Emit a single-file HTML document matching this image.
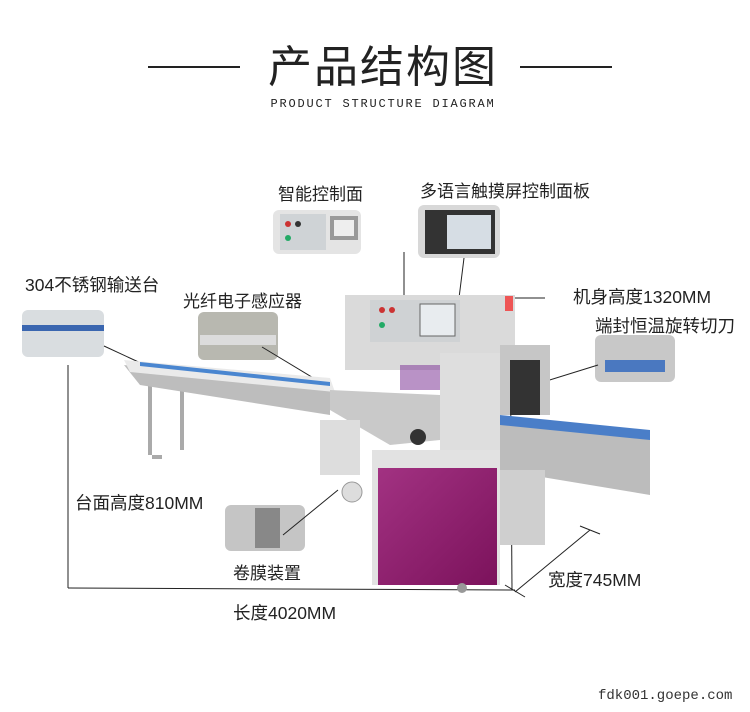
<!DOCTYPE html>
<html><head><meta charset="utf-8"><style>
html,body{margin:0;padding:0;background:#fff;}
svg{display:block}
text{font-family:"Liberation Sans","Noto Sans CJK SC",sans-serif;fill:#222}
</style></head><body>
<svg width="750" height="712" viewBox="0 0 750 712" xmlns="http://www.w3.org/2000/svg">
<rect width="750" height="712" fill="#fff"/>
<line x1="148" y1="67" x2="240" y2="67" stroke="#222" stroke-width="2"/>
<line x1="520" y1="67" x2="612" y2="67" stroke="#222" stroke-width="2"/>
<text x="383" y="82" font-size="44" text-anchor="middle" style="letter-spacing:2px">产品结构图</text>
<text x="383" y="107" font-size="12" text-anchor="middle" style="letter-spacing:1.8px;font-family:'Liberation Mono',monospace">PRODUCT STRUCTURE DIAGRAM</text>

<text x="278" y="200" font-size="17">智能控制面</text>
<text x="420" y="197" font-size="17">多语言触摸屏控制面板</text>
<text x="25" y="291" font-size="17.5">304不锈钢输送台</text>
<text x="183" y="307" font-size="17">光纤电子感应器</text>
<text x="573" y="303" font-size="17.5">机身高度1320MM</text>
<text x="595" y="332" font-size="17.5">端封恒温旋转切刀</text>
<text x="75" y="509" font-size="17.5">台面高度810MM</text>
<text x="233" y="579" font-size="17">卷膜装置</text>
<text x="548" y="586" font-size="17.5">宽度745MM</text>
<text x="233" y="619" font-size="17.5">长度4020MM</text>
<text x="598" y="699" font-size="14" style="font-family:'Liberation Mono',monospace;fill:#333">fdk001.goepe.com</text>

<rect x="273" y="210" width="88" height="44" rx="6" fill="#e4e4e4"/>
<rect x="280" y="214" width="46" height="36" fill="#cfd3d6"/>
<circle cx="288" cy="224" r="3" fill="#c33"/><circle cx="298" cy="224" r="3" fill="#333"/><circle cx="288" cy="238" r="3" fill="#2a6"/>
<rect x="330" y="216" width="28" height="24" fill="#999"/><rect x="334" y="220" width="20" height="16" fill="#eee"/>
<rect x="418" y="205" width="82" height="53" rx="6" fill="#d8d8d8"/>
<rect x="425" y="210" width="70" height="44" fill="#333"/><rect x="447" y="215" width="44" height="34" fill="#d6dde4"/>
<rect x="22" y="310" width="82" height="47" rx="6" fill="#d9dde0"/>
<rect x="22" y="325" width="82" height="6" fill="#3a66b0"/>
<rect x="198" y="312" width="80" height="48" rx="6" fill="#b8b8b0"/>
<rect x="200" y="335" width="76" height="10" fill="#dcdcdc"/>
<rect x="595" y="335" width="80" height="47" rx="6" fill="#c8c8c8"/>
<rect x="605" y="360" width="60" height="12" fill="#4a78c0"/>
<rect x="225" y="505" width="80" height="46" rx="6" fill="#c5c5c5"/>
<rect x="255" y="508" width="25" height="40" fill="#888"/>

<g stroke="#222" stroke-width="1" fill="none">
<line x1="404" y1="252" x2="404" y2="300"/>
<line x1="464" y1="258" x2="454" y2="338"/>
<line x1="104" y1="346" x2="145" y2="365"/>
<line x1="262" y1="347" x2="325" y2="385"/>
<line x1="283" y1="535" x2="338" y2="490"/>
<line x1="598" y1="365" x2="540" y2="383"/>
<line x1="68" y1="365" x2="68" y2="588"/>
<line x1="68" y1="588" x2="515" y2="590"/>
<line x1="510" y1="298" x2="512" y2="590"/>
<line x1="510" y1="298" x2="545" y2="298"/>
<line x1="515" y1="592" x2="590" y2="530"/>
<line x1="505" y1="585" x2="525" y2="597"/>
<line x1="580" y1="526" x2="600" y2="534"/>
</g>

<g fill="#aaa"><rect x="148" y="380" width="4" height="75"/><rect x="180" y="385" width="4" height="65"/><rect x="152" y="455" width="10" height="4"/></g>
<polygon points="124,365 330,388 330,415 140,385" fill="#bdbdbd"/>
<polygon points="124,360 330,378 335,392 130,372" fill="#eaeaea"/>
<polygon points="140,362 330,382 330,386 140,366" fill="#4a86d0"/>
<rect x="345" y="295" width="170" height="75" fill="#dadada"/>
<rect x="370" y="300" width="90" height="42" fill="#cfd2d4"/>
<rect x="420" y="304" width="35" height="32" fill="#e8ecef" stroke="#666"/>
<circle cx="382" cy="310" r="3" fill="#c33"/><circle cx="392" cy="310" r="3" fill="#c33"/><circle cx="382" cy="325" r="3" fill="#2a6"/>
<rect x="505" y="296" width="8" height="15" fill="#e55"/>
<polygon points="330,390 440,395 440,440 390,445 330,410" fill="#c9c9c9"/>
<rect x="400" y="365" width="40" height="25" fill="#8a4aa0" opacity="0.6"/>
<circle cx="418" cy="437" r="8" fill="#333"/>
<rect x="320" y="420" width="40" height="55" fill="#ddd"/>
<circle cx="352" cy="492" r="10" fill="#ddd" stroke="#999"/>
<rect x="440" y="353" width="60" height="127" fill="#dedede"/>
<rect x="500" y="345" width="50" height="70" fill="#c6c6c6"/>
<rect x="510" y="360" width="30" height="55" fill="#333"/>
<polygon points="500,420 650,435 650,495 500,470" fill="#bcbcbc"/>
<polygon points="500,415 650,430 650,440 500,425" fill="#4a7ec8"/>
<rect x="372" y="450" width="128" height="135" fill="#e2e2e2"/>
<rect x="500" y="470" width="45" height="75" fill="#cfcfcf"/>
<defs><linearGradient id="g" x1="0" y1="0" x2="1" y2="1"><stop offset="0" stop-color="#c050a0"/><stop offset="1" stop-color="#600040"/></linearGradient></defs>
<rect x="378" y="468" width="119" height="117" fill="#8e1e6e"/>
<rect x="378" y="468" width="119" height="117" fill="url(#g)" opacity="0.4"/>
<circle cx="462" cy="588" r="5" fill="#999"/>
</svg>
</body></html>
